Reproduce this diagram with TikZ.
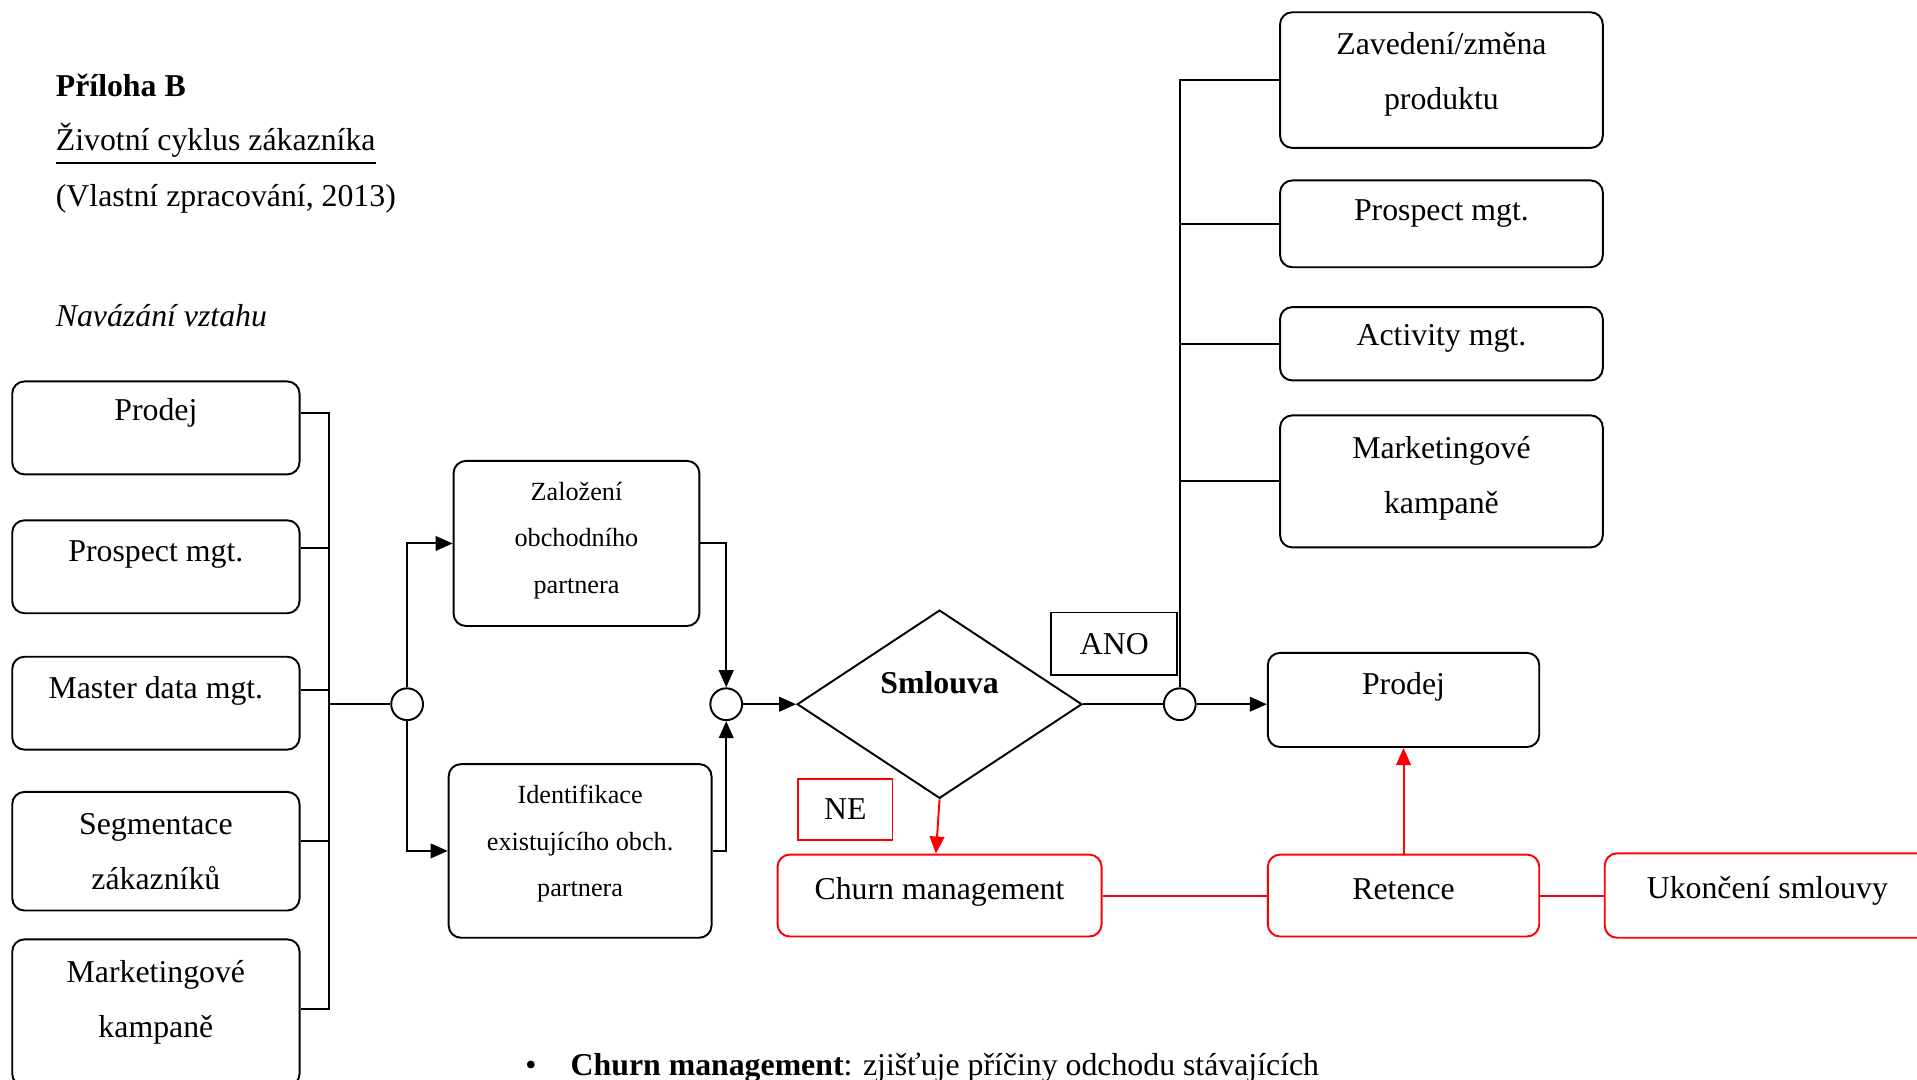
\documentclass[tikz,border=0pt]{standalone}
\usepackage{fontspec}
\setmainfont{Liberation Serif}
\usepackage{tikz}
\usetikzlibrary{shapes.geometric,arrows.meta,positioning}
\newcommand{\mainsz}{\fontsize{7.4pt}{12.8pt}\selectfont}
\newcommand{\smallsz}{\fontsize{6.1pt}{10.8pt}\selectfont}
\tikzset{
  box/.style={draw,rounded corners=1mm,line width=0.45pt,inner sep=0pt},
  rbox/.style={box,draw=red},
  lcol/.style={box,minimum width=2.35cm},
  rcol/.style={box,minimum width=2.64cm},
  tag/.style={draw,line width=0.45pt,inner sep=0pt,font=\mainsz},
  jn/.style={draw,circle,fill=white,minimum size=0.26cm,inner sep=0pt,line width=0.45pt},
  dec/.style={draw,diamond,inner sep=0pt,line width=0.45pt},
  txt/.style={font=\mainsz,align=center,inner sep=0pt},
  stxt/.style={font=\smallsz,align=center,inner sep=0pt},
  hdr/.style={font=\mainsz,inner sep=0pt,anchor=base west},
  ln/.style={line width=0.45pt},
  rln/.style={ln,red},
  arr/.style={-{Triangle[length=1.4mm,width=1.2mm]},line width=0.45pt},
  rarr/.style={arr,red},
}

\begin{document}
\begin{tikzpicture}
  \useasboundingbox (0,0) rectangle (15.68,-8.83);
  %% Header
  \node[hdr,font=\mainsz\bfseries] (ttl)   at (0.45,-0.79) {Příloha B};
  \node[hdr]                       (sub)   at (0.45,-1.23) {\underline{Životní cyklus zákazníka}};
  \node[hdr]                       (src)   at (0.45,-1.69) {(Vlastní zpracování, 2013)};
  \node[hdr,font=\mainsz\itshape]  (phase) at (0.45,-2.67) {Navázání vztahu};

  %% Left column
  \node[lcol,minimum height=0.76cm,label={[txt,yshift=1.2mm]center:Prodej}]
        (lprodej) at (1.275,-3.50) {};
  \node[lcol,minimum height=0.76cm,below=0.36cm of lprodej,
        label={[txt,yshift=1mm]center:Prospect mgt.}] (lprosp) {};
  \node[lcol,minimum height=0.76cm,below=0.34cm of lprosp,
        label={[txt,yshift=1mm]center:Master data mgt.}] (lmaster) {};
  \node[lcol,minimum height=0.97cm,below=0.33cm of lmaster,
        label={[txt]center:{Segmentace\\zákazníků}}] (lsegm) {};
  \node[lcol,minimum height=1.20cm,below=0.22cm of lsegm,
        label={[txt,yshift=0.85mm]center:{Marketingové\\kampaně}}] (lmark) {};

  %% Middle
  \node[box,minimum width=2.01cm,minimum height=1.35cm,
        label={[stxt,yshift=0.25mm]center:{Založení\\obchodního\\partnera}}]
        (zal) at (4.715,-4.445) {};
  \node[box,minimum width=2.15cm,minimum height=1.42cm,
        label={[stxt,yshift=0.6mm]center:{Identifikace\\existujícího obch.\\partnera}}]
        (ident) at (4.745,-6.96) {};
  \node[jn] (c1) at (3.33,-5.76) {};
  \node[jn] (c2) at (5.94,-5.76) {};
  \node[dec,minimum width=2.33cm,minimum height=1.54cm,
        label={[txt,font=\mainsz\bfseries,yshift=1.8mm]center:Smlouva}]
        (dia) at (7.685,-5.76) {};
  \node[jn] (c3) at (9.65,-5.76) {};
  \node[tag,minimum width=1.03cm,minimum height=0.51cm] (ano) at (9.115,-5.265) {ANO};
  \node[tag,draw=red,minimum width=0.77cm,minimum height=0.50cm] (ne) at (6.915,-6.62) {NE\hspace{0.8mm}};

  %% Right column
  \node[rcol,minimum height=1.11cm,label={[txt,yshift=0.45mm]center:{Zavedení/změna\\produktu}}]
        (rzav) at (11.79,-0.655) {};
  \node[rcol,minimum height=0.71cm,below=0.25cm of rzav,
        label={[txt,yshift=0.85mm]center:Prospect mgt.}] (rprosp) {};
  \node[rcol,minimum height=0.60cm,below=0.31cm of rprosp,
        label={[txt,yshift=0.4mm]center:Activity mgt.}] (ract) {};
  \node[rcol,minimum height=1.08cm,below=0.27cm of ract,
        label={[txt,yshift=0.25mm]center:{Marketingové\\kampaně}}] (rmark) {};
  \node[box,minimum width=2.22cm,minimum height=0.77cm,
        label={[txt,yshift=1.05mm]center:Prodej}] (rprodej) at (11.48,-5.725) {};

  %% Red row
  \node[rbox,minimum width=2.65cm,minimum height=0.67cm,
        label={[txt,yshift=0.3mm]center:Churn management}] (churn) at (7.685,-7.325) {};
  \node[rbox,minimum width=2.22cm,minimum height=0.67cm,
        label={[txt,yshift=0.55mm]center:Retence}] (ret) at (11.48,-7.325) {};
  \node[rbox,minimum width=2.66cm,minimum height=0.69cm,right=0.52cm of ret,
        label={[txt,yshift=0.35mm]center:Ukončení smlouvy}] (ukon) {};

  %% Bottom note
  \node[hdr] (note) at (4.29,-8.80)
        {\textbullet\hspace{2.8mm}\textbf{Churn management}: zjišťuje příčiny odchodu stávajících};

  %% Edges
  \coordinate (busT) at (2.69,-3.38);
  \draw[ln]([yshift=1.2mm]lprodej.east) -| ([yshift=0.3mm]lmark.east -| busT) -- ([yshift=0.3mm]lmark.east);
  \draw[ln]([yshift=1.5mm]lprosp.east) -- ([yshift=1.5mm]lprosp.east -| busT);
  \draw[ln]([yshift=1.1mm]lmaster.east) -- ([yshift=1.1mm]lmaster.east -| busT);
  \draw[ln]([yshift=0.85mm]lsegm.east) -- ([yshift=0.85mm]lsegm.east -| busT);
  \draw[ln](c1.west) -- (c1.west -| busT);
  \draw[arr](c1.north) |- (zal.west);
  \draw[arr](c1.south) |- (ident.west);
  \draw[arr](zal.east) -| (c2.north);
  \draw[arr](ident.east) -| (c2.south);
  \draw[arr](c2.east) -- (dia.west);
  \draw[ln](dia.east) -- (c3.west);
  \draw[arr](c3.east) -- (c3.east -| rprodej.west);
  \draw[ln](c3.north) -- (c3.north |- rzav.west) -- (rzav.west);
  \draw[ln](rprosp.west) -- (rprosp.west -| c3);
  \draw[ln](ract.west) -- (ract.west -| c3);
  \draw[ln](rmark.west) -- (rmark.west -| c3);
  \draw[rarr](dia.south) -- ([xshift=-0.3mm]churn.north);
  \draw[rln](churn.east) -- (ret.west);
  \draw[rln](ret.east) -- (ukon.west);
  \draw[rarr](ret.north) -- (rprodej.south);
\end{tikzpicture}
\end{document}
